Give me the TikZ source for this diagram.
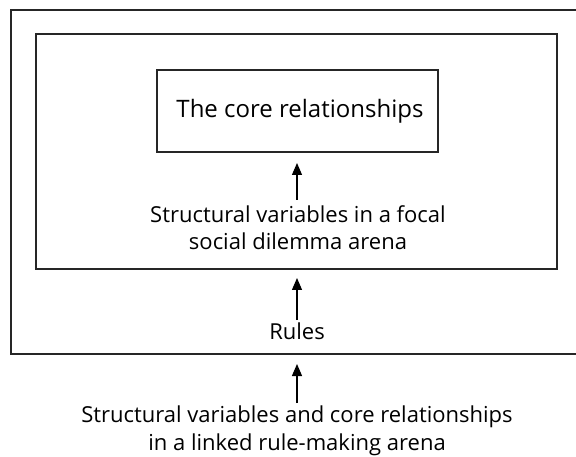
\documentclass[tikz,border=0pt]{standalone}
\usepackage{fontspec}
\setmainfont{Open Sans}
\usetikzlibrary{arrows.meta}
\begin{document}
\begin{tikzpicture}[x=1pt,y=-1pt,
  box/.style={draw=black!85, line width=1.3pt, inner sep=0pt, outer sep=0pt, anchor=north west},
  lbl/.style={align=center, inner sep=0pt, anchor=base, font=\fontsize{22}{27}\selectfont},
  up/.style={-{Triangle[length=12pt,width=10pt]}, line width=1.2pt}]
\useasboundingbox (0,0) rectangle (576,457);
\clip (0,0) rectangle (576,457);
\node[box, minimum width=571pt, minimum height=344pt] (outer) at (11,10) {};
\node[box, minimum width=521pt, minimum height=235pt] (inner) at (36,34) {};
\node[box, minimum width=281pt, minimum height=82pt] (core) at (157,70) {};
\node[inner sep=0pt, anchor=base, font=\fontsize{24}{28}\selectfont] (coretext) at (300,118) {The core relationships};
\node[lbl] (focal) at (298,250) {Structural variables in a focal\\social dilemma arena};
\node[lbl] (rules) at (297,339) {Rules};
\node[lbl, font=\fontsize{22}{28}\selectfont] (linked) at (297,450) {Structural variables and core relationships\\in a linked rule-making arena};
\coordinate (t1) at (297,200);
\coordinate (t2) at (297,320);
\coordinate (t3) at (297,403);
\draw[up, shorten >=11pt] (t1) -- (core.south -| t1);
\draw[up, shorten >=9pt] (t2) -- (inner.south -| t2);
\draw[up, shorten >=10pt] (t3) -- (outer.south -| t3);
\end{tikzpicture}
\end{document}
